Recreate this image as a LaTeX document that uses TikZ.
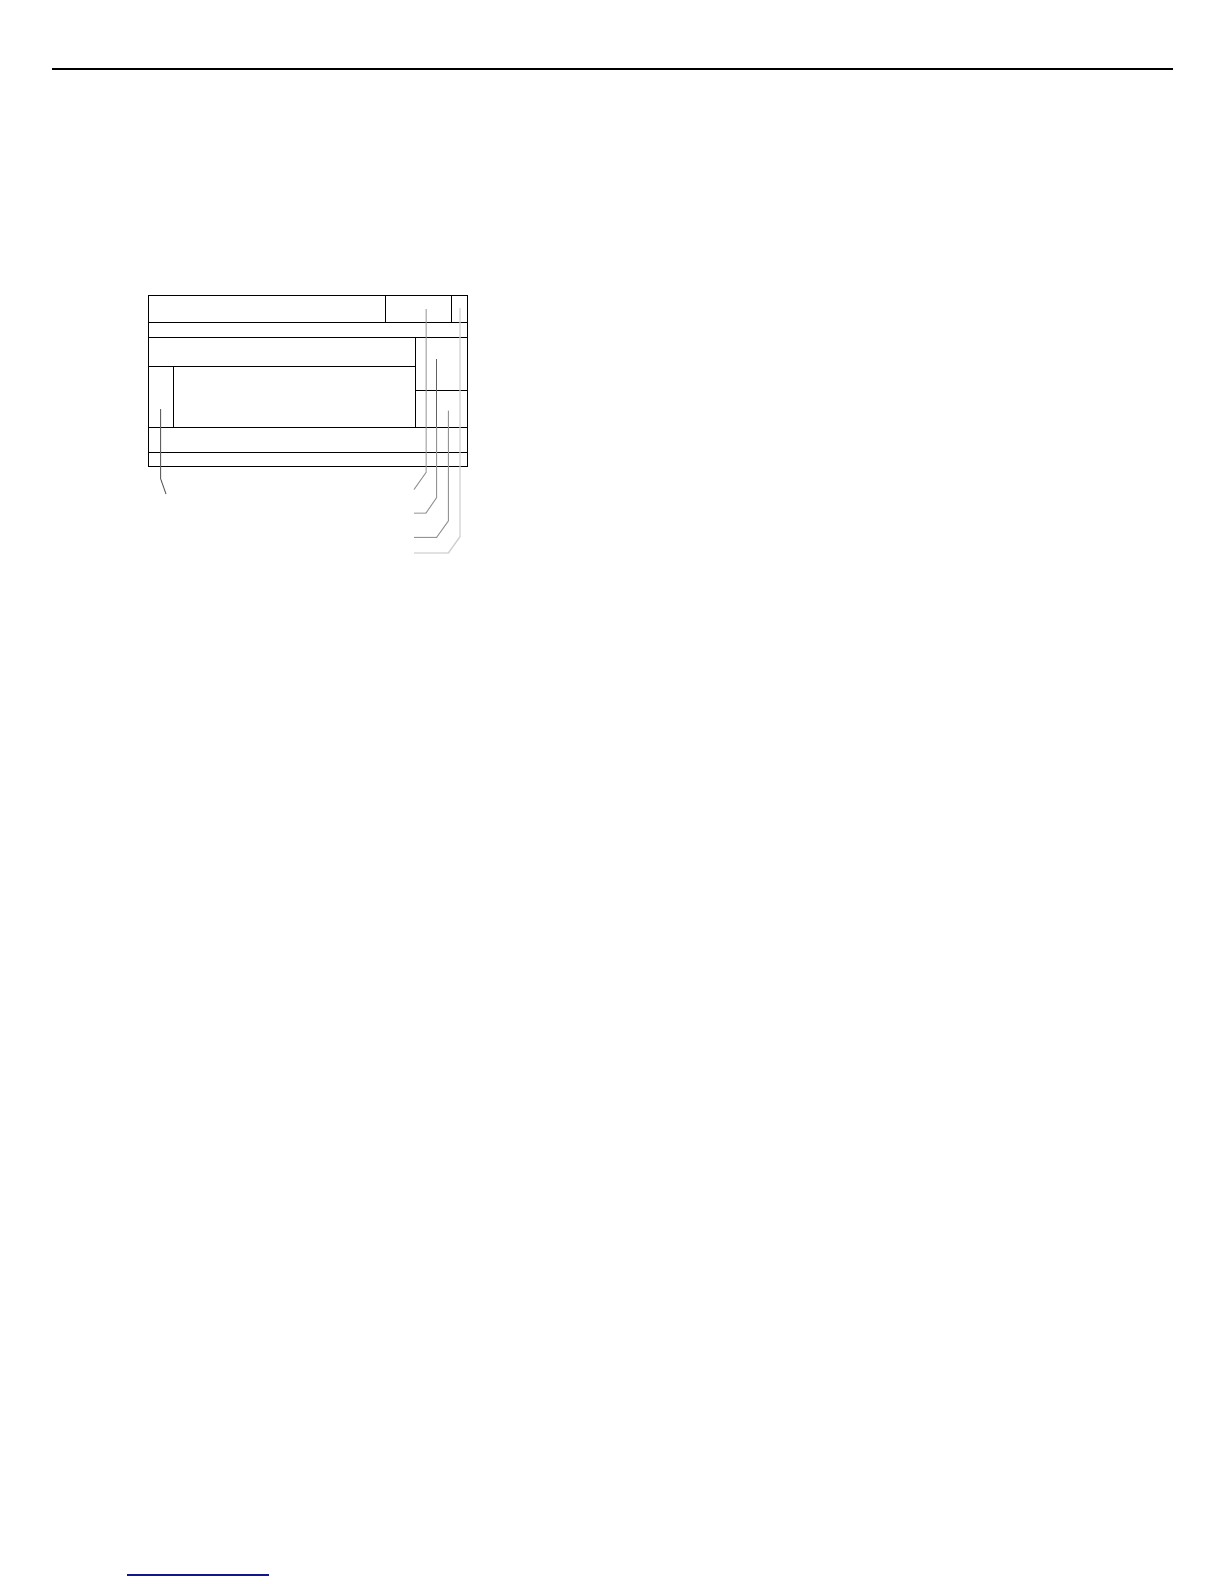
\documentclass[tikz,border=0pt]{standalone}
\begin{document}
\begin{tikzpicture}[x=0.5bp,y=-0.5bp,
  boxline/.style={draw=black,line width=0.5bp},
  leaddark/.style={draw=black!62,line width=0.5bp},
  leadmid/.style={draw=black!42,line width=0.5bp},
  leadlight/.style={draw=black!18,line width=0.7bp}]
\useasboundingbox (0,0) rectangle (1224,1584);
% header rule
\draw[line width=0.75bp] (52,69) -- (1173,69);
% footer rule
\draw[draw={rgb,255:red,20;green,20;blue,140},line width=0.6bp] (127,1575) -- (269,1575);
% box
\draw[boxline] (148,295) rectangle (467,466);
\draw[boxline] (385,295) -- (385,322);
\draw[boxline] (451,295) -- (451,322);
\draw[boxline] (148,322) -- (467,322);
\draw[boxline] (148,337) -- (467,337);
\draw[boxline] (148,366) -- (415,366);
\draw[boxline] (415,337) -- (415,427);
\draw[boxline] (173,366) -- (173,427);
\draw[boxline] (415,390) -- (467,390);
\draw[boxline] (148,427) -- (467,427);
\draw[boxline] (148,452) -- (467,452);
% leaders
\coordinate (l0a) at (160.7,409);
\draw[leaddark] (l0a) -- (160.7,479) -- (166,494);
\draw[leadmid] (426,309) -- (426,472.5) -- (414,489.5);
\draw[leaddark] (436.7,359) -- (436.7,427);
\draw[leadmid] (436.7,427) -- (436.7,497.5) -- (426,513) -- (414,513);
\draw[leadmid] (448.3,410.7) -- (448.3,521) -- (436.7,537.3) -- (414,537.3);
\draw[leadlight] (460,308) -- (460,536.7) -- (448.3,553) -- (414,553);
\end{tikzpicture}
\end{document}
